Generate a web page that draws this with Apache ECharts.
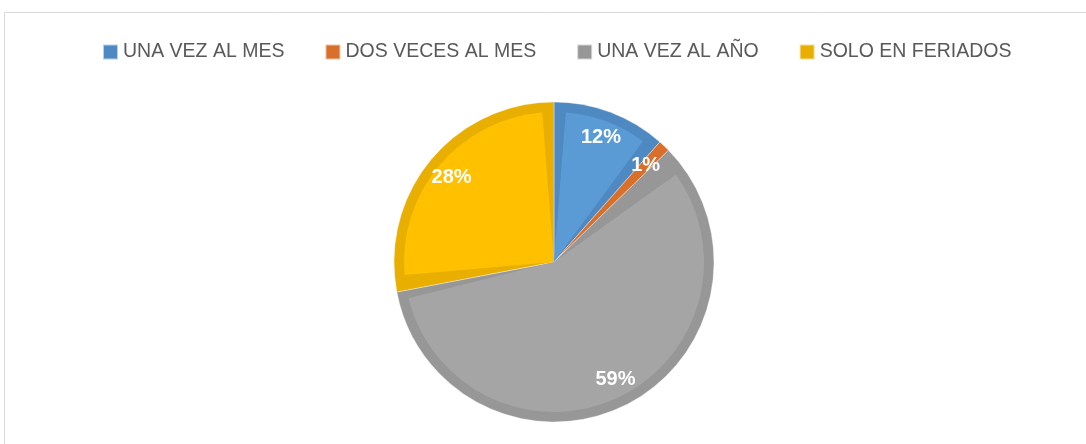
<!DOCTYPE html>
<html>
<head>
<meta charset="utf-8">
<script src="https://cdn.jsdelivr.net/npm/echarts@6/dist/echarts.min.js"></script>
<style>
    html, body { margin: 0; padding: 0; background: #fff; }
    #chart { width: 1086px; height: 444px; }
</style>
</head>
<body>
<div id="chart"></div>
<script>
// datos
var categorias = ['UNA VEZ AL MES', 'DOS VECES AL MES', 'UNA VEZ AL AÑO', 'SOLO EN FERIADOS'];
var valores = [11.5, 1.2, 59.3, 28];
var etiquetas = ['12%', '1%', '59%', '28%'];

// colores: relleno claro y borde oscuro (efecto bisel)
var coloresClaros = ['#5b9bd5', '#ed7d31', '#a5a5a5', '#ffc000'];
var coloresOscuros = ['#4e89c2', '#d8702b', '#979797', '#e8ae00'];

var chart = echarts.init(document.getElementById('chart'));

function armarDatos(colores){
    var arr = [];
    categorias.forEach(function(nombre, i){
        arr.push({ name: nombre, value: valores[i], itemStyle: { color: colores[i] } });
    });
    return arr;
}

var datosLeyenda = categorias.map(function(nombre, i){
    return { name: nombre, itemStyle: { color: coloresOscuros[i] } };
});

var centro = [554, 262];

var option = {
    animation: false,
    graphic: [{
        type: 'rect',
        shape: { x: 4.5, y: 12.5, width: 1200, height: 600 },
        style: { fill: 'none', stroke: '#d9d9d9', lineWidth: 1 },
        silent: true
    }],
    legend: {
        data: datosLeyenda,
        left: 97,
        top: 37,
        icon: 'rect',
        itemWidth: 15,
        itemHeight: 15,
        itemGap: 40,
        textStyle: {
            color: '#595959',
            fontSize: 19.5,
            fontFamily: 'Liberation Sans'
        }
    },
    series: [
        // capa oscura (borde)
        {
            name: 'borde',
            type: 'pie',
            center: centro,
            radius: 160,
            startAngle: 90,
            clockwise: true,
            label: { show: false },
            labelLine: { show: false },
            emphasis: { disabled: true },
            itemStyle: { borderColor: 'rgba(255,255,255,0.6)', borderWidth: 0.6 },
            data: armarDatos(coloresOscuros)
        },
        // capa clara (relleno)
        {
            name: 'relleno',
            type: 'pie',
            center: centro,
            radius: 150,
            startAngle: 90,
            padAngle: 9,
            clockwise: true,
            label: { show: false },
            labelLine: { show: false },
            emphasis: { disabled: true },
            data: armarDatos(coloresClaros)
        },
        // etiquetas
        {
            name: 'etiquetas',
            type: 'pie',
            center: centro,
            radius: [100, 160],
            startAngle: 90,
            clockwise: true,
            silent: true,
            itemStyle: { color: 'rgba(0,0,0,0)' },
            label: {
                show: true,
                position: 'inside',
                color: '#fff',
                fontSize: 20,
                fontWeight: 'bold',
                fontFamily: 'Liberation Sans',
                formatter: function(p){
                    return etiquetas[p.dataIndex];
                }
            },
            labelLine: { show: false },
            data: categorias.map(function(nombre, i){
                return { name: nombre, value: valores[i] };
            })
        }
    ]
};

chart.setOption(option);
</script>
</body>
</html>
